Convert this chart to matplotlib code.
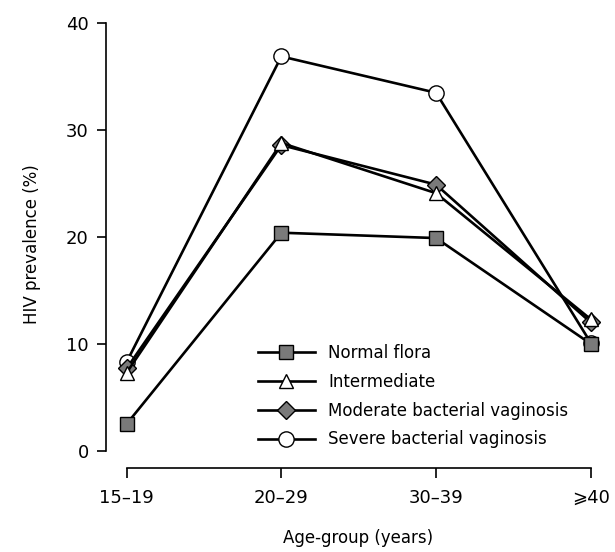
import matplotlib.pyplot as plt

age_groups = ["15\u201319", "20\u201329", "30\u201339", "\u2a7e40"]
normal_flora = [2.5, 20.4, 19.9, 10.0]
intermediate = [7.3, 28.8, 24.1, 12.3]
moderate_bv = [7.7, 28.6, 24.9, 12.0]
severe_bv = [8.3, 36.9, 33.5, 10.1]

plt.rcParams['font.family'] = ['DejaVu Sans', 'Noto Sans']

fig = plt.figure(figsize=(6.15, 5.52), dpi=100)
ax = fig.add_axes([106 / 615, 1 - 467.7 / 552, 504 / 615, (467.7 - 20) / 552])

x = range(len(age_groups))
grey = '#7a7a7a'
common = dict(color='black', lw=1.9, markeredgecolor='black', markeredgewidth=1.0)
ax.plot(x, normal_flora, marker='s', ms=9.5, mfc=grey, label='Normal flora', zorder=6, **common)
ax.plot(x, intermediate, marker='^', ms=10.5, mfc='white', label='Intermediate', zorder=5, **common)
ax.plot(x, moderate_bv, marker='D', ms=9, mfc=grey, label='Moderate bacterial vaginosis', zorder=4, **common)
ax.plot(x, severe_bv, marker='o', ms=11, mfc='white', label='Severe bacterial vaginosis', zorder=3, **common)

ax.set_xlim(-20.7 / 155, 3 + 19.3 / 155)
ax.set_ylim(-17 / 10.67, 40 + 3.3 / 10.67)
ax.set_xticks(list(x))
ax.set_xticklabels(age_groups)
ax.set_yticks([0, 10, 20, 30, 40])

for s in ['top', 'right']:
    ax.spines[s].set_visible(False)
ax.spines['left'].set_bounds(0, 40)
ax.spines['bottom'].set_bounds(0, 3)
ax.spines['left'].set_linewidth(1.2)
ax.spines['bottom'].set_linewidth(1.2)
ax.tick_params(axis='y', length=6.5, width=1.2, labelsize=13, pad=6)
ax.tick_params(axis='x', length=7.5, width=1.2, labelsize=13, pad=8)

ax.set_xlabel('Age-group (years)', fontsize=12, labelpad=16)
ax.set_ylabel('HIV prevalence (%)', fontsize=12, labelpad=18)

ax.legend(loc='upper left', bbox_to_anchor=(258 / 615, 1 - 344 / 552), bbox_transform=fig.transFigure,
          frameon=False, fontsize=12, handlelength=3.4, handletextpad=0.8, labelspacing=0.65,
          borderpad=0, borderaxespad=0)

fig.savefig('out.png', dpi=100)
